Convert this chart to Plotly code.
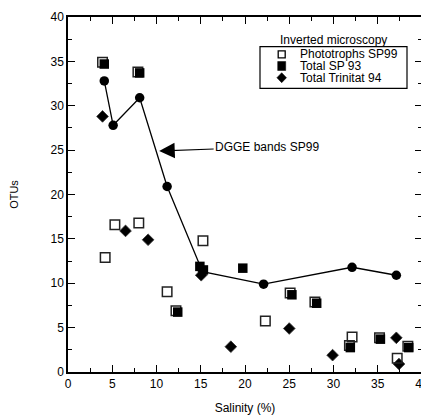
import plotly.graph_objects as go

# DGGE bands SP99 (line + circles)
dgge_salinity = [4.1, 5.1, 8.1, 11.2, 15.2, 22.1, 32.1, 37.1]
dgge_otus = [32.8, 27.8, 30.9, 20.9, 11.3, 9.9, 11.8, 10.9]

# Phototrophs SP99 (open squares)
photo_salinity = [3.9, 4.2, 5.3, 7.9, 8.0, 11.2, 12.2, 15.25, 22.3, 25.1, 27.9, 31.8, 32.1, 35.2, 37.2, 38.4]
photo_otus = [34.9, 12.9, 16.6, 33.8, 16.8, 9.05, 6.9, 14.8, 5.75, 8.9, 7.9, 3.0, 3.95, 3.85, 1.55, 2.9]

# Total SP 93 (filled squares)
sp93_salinity = [4.1, 8.1, 12.4, 14.9, 15.3, 19.75, 25.3, 28.1, 31.9, 35.3, 38.5]
sp93_otus = [34.7, 33.7, 6.75, 11.9, 11.5, 11.7, 8.7, 7.75, 2.75, 3.7, 2.75]

# Total Trinitat 94 (diamonds)
trin_salinity = [3.9, 6.5, 9.05, 15.05, 18.4, 25.0, 29.9, 37.1, 37.4]
trin_otus = [28.8, 15.9, 14.9, 10.9, 2.85, 4.9, 1.9, 3.85, 0.9]

x_ticks = [0, 5, 10, 15, 20, 25, 30, 35, 40]
y_ticks = [0, 5, 10, 15, 20, 25, 30, 35, 40]

legend_title = "Inverted microscopy"
legend_names = ["Phototrophs SP99", "Total SP 93", "Total Trinitat 94"]

FONT = "Liberation Sans, Arial, sans-serif"
OFF = 8  # page body margin
W, H = 421, 412
L, R, T, B = 60, 7, 9, 48
PW, PH = W - L - R, H - T - B


def px_x(p):
    return (p - OFF - L) / PW


def px_y(p):
    return (H - B - (p - OFF)) / PH


fig = go.Figure()

fig.add_trace(go.Scatter(
    x=dgge_salinity, y=dgge_otus, mode="lines+markers",
    line=dict(color="black", width=1.3),
    marker=dict(symbol="circle", size=9.5, color="black"),
    showlegend=False, name="DGGE bands SP99"))

fig.add_trace(go.Scatter(
    x=trin_salinity, y=trin_otus, mode="markers", name=legend_names[2],
    marker=dict(symbol="diamond", size=9, color="black",
                line=dict(color="#333", width=0.8)),
    showlegend=False))

fig.add_trace(go.Scatter(
    x=photo_salinity, y=photo_otus, mode="markers", name=legend_names[0],
    marker=dict(symbol="square-open", size=9.5, color="#222",
                line=dict(width=1.5)),
    showlegend=False))

fig.add_trace(go.Scatter(
    x=sp93_salinity, y=sp93_otus, mode="markers", name=legend_names[1],
    marker=dict(symbol="square", size=9.5, color="black"),
    showlegend=False))

axis_common = dict(
    showgrid=False, zeroline=False, showline=True, linecolor="black", linewidth=1.5,
    mirror="ticks", ticks="inside", ticklen=7, tickwidth=1.2, tickcolor="black",
    tickfont=dict(family=FONT, size=12, color="black"), automargin=False,
)

fig.update_xaxes(
    range=[0, 40], tickvals=x_ticks, ticktext=[str(v) for v in x_ticks],
    minor=dict(dtick=2.5, ticks="inside", ticklen=4, tickwidth=1, tickcolor="black"),
    title=dict(text="Salinity (%)", font=dict(family=FONT, size=12, color="black"), standoff=13),
    **axis_common)
fig.update_yaxes(
    range=[0, 40], tickvals=y_ticks, ticktext=[str(v) for v in y_ticks],
    minor=dict(dtick=2.5, ticks="inside", ticklen=4, tickwidth=1, tickcolor="black"),
    title=dict(text="OTUs", font=dict(family=FONT, size=11, color="black"), standoff=34),
    **axis_common)

fig.add_annotation(
    x=10.3, y=24.9, xref="x", yref="y",
    text="DGGE bands SP99", showarrow=True,
    ax=108, ay=-4, arrowhead=2, arrowsize=2.6, arrowwidth=1.2, arrowcolor="black",
    font=dict(family=FONT, size=12, color="black"))

# legend (drawn manually to match compact layout)
fig.add_shape(type="rect", xref="paper", yref="paper",
              x0=px_x(260), x1=px_x(407), y0=px_y(88.3), y1=px_y(46.7),
              line=dict(color="black", width=1.2), fillcolor="white", layer="above")
fig.add_annotation(x=px_x(333), y=px_y(40), xref="paper", yref="paper", showarrow=False,
                   xanchor="center", yanchor="middle",
                   text=legend_title, font=dict(family=FONT, size=12, color="black"))
rows = [54.3, 66.0, 77.7]
sym_x = 281.7
for name, ry in zip(legend_names, rows):
    fig.add_annotation(x=px_x(299.3), y=px_y(ry), xref="paper", yref="paper",
                       xanchor="left", yanchor="middle", showarrow=False, borderpad=0,
                       text=name, font=dict(family=FONT, size=12, color="black"))

# legend keys
fig.add_shape(type="rect", xref="paper", yref="paper", xsizemode="pixel", ysizemode="pixel",
              xanchor=px_x(sym_x), yanchor=px_y(rows[0]), x0=-3.5, x1=3.5, y0=-3.5, y1=3.5,
              line=dict(color="black", width=1.3), fillcolor="white", layer="above")
fig.add_shape(type="rect", xref="paper", yref="paper", xsizemode="pixel", ysizemode="pixel",
              xanchor=px_x(sym_x), yanchor=px_y(rows[1]), x0=-4, x1=4, y0=-4.5, y1=4.5,
              line=dict(color="black", width=0.5), fillcolor="black", layer="above")
dx, dy = 4.8, 5.0
ax0, ay0 = px_x(sym_x), px_y(rows[2])
fig.add_shape(type="path", xref="paper", yref="paper",
              path=(f"M {ax0 - dx / PW} {ay0} L {ax0} {ay0 + dy / PH} "
                    f"L {ax0 + dx / PW} {ay0} L {ax0} {ay0 - dy / PH} Z"),
              line=dict(color="black", width=0.5), fillcolor="black", layer="above")

fig.update_layout(
    width=W, height=H,
    margin=dict(l=L, r=R, t=T, b=B, autoexpand=False),
    plot_bgcolor="white", paper_bgcolor="white",
    font=dict(family=FONT, size=12, color="black"),
    showlegend=False,
)

fig.write_html("out.html")
